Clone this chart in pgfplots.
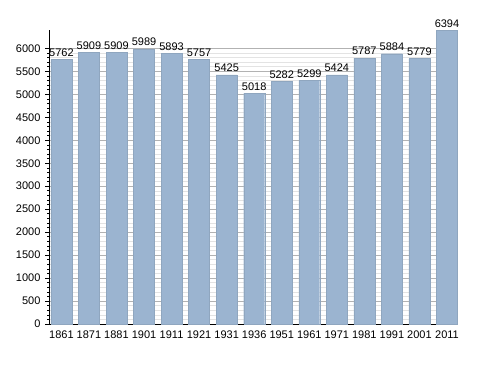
\documentclass[border=0pt]{standalone}
\usepackage{fontspec}
\setmainfont{Liberation Sans}
\usepackage{pgfplots}
\pgfplotsset{compat=1.18}
\definecolor{barc}{RGB}{155,180,208}
\begin{document}
\begin{tikzpicture}
\begin{axis}[
  scale only axis, width=409pt, height=294pt,
  xmin=-0.45, xmax=14.4, ymin=0, ymax=6400,
  axis x line*=bottom, axis y line*=left,
  axis line style={black, line width=0.8pt, -},
  ytick={0,500,...,6000}, minor y tick num=4,
  ymajorgrids, yminorgrids,
  major grid style={gray!60, line width=0.5pt},
  minor grid style={gray!22, line width=0.5pt},
  tick align=outside,
  major tick length=4pt, minor tick length=2pt,
  ytick style={black, line width=0.6pt},
  xtick={0,...,14},
  xticklabels={1861,1871,1881,1901,1911,1921,1931,1936,1951,1961,1971,1981,1991,2001,2011},
  xtick style={draw=none},
  tick label style={font=\fontsize{11}{13}\selectfont},
  /pgf/number format/assume math mode=true,
  /pgf/number format/1000 sep={},
  yticklabel style={xshift=-1pt},
  xticklabel style={yshift=1pt},
  clip=false,
  ybar, bar width=0.76,
  nodes near coords,
  nodes near coords style={font=\fontsize{11}{13}\selectfont, /pgf/number format/1000 sep={}, /pgf/number format/assume math mode=true, inner sep=1.5pt, yshift=1.5pt},
]
\addplot[fill=barc, draw=barc!92!black, line width=0.3pt] coordinates {
(0,5762) (1,5909) (2,5909) (3,5989) (4,5893) (5,5757) (6,5425) (7,5018)
(8,5282) (9,5299) (10,5424) (11,5787) (12,5884) (13,5779) (14,6394)};
\end{axis}
\path (current axis.south west) ++(-49pt,-49pt) coordinate (bl);
\path (current axis.north east) ++(30pt,30pt) coordinate (tr);
\useasboundingbox (bl) rectangle (tr);
\end{tikzpicture}
\end{document}
